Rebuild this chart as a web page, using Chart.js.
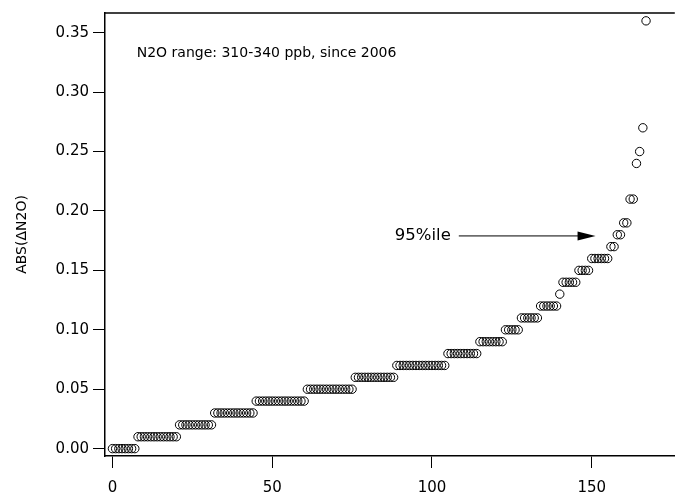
<!DOCTYPE html>
<html>
<head>
<meta charset="utf-8">
<script src="https://cdn.jsdelivr.net/npm/chart.js@4.4.1/dist/chart.umd.min.js"></script>
<style>
  html, body { margin: 0; padding: 0; background: #fff; }
  #wrap { width: 680px; height: 502px; }
</style>
</head>
<body>
<div id="wrap"><canvas id="chart" width="680" height="502"></canvas></div>
<script>
// sorted ABS(dN2O) values, one per point, in rank order (0..167)
const absDelta = [
  0.00, 0.00, 0.00, 0.00, 0.00, 0.00, 0.00, 0.00,
  0.01, 0.01, 0.01, 0.01, 0.01, 0.01, 0.01, 0.01, 0.01, 0.01, 0.01, 0.01, 0.01,
  0.02, 0.02, 0.02, 0.02, 0.02, 0.02, 0.02, 0.02, 0.02, 0.02, 0.02,
  0.03, 0.03, 0.03, 0.03, 0.03, 0.03, 0.03, 0.03, 0.03, 0.03, 0.03, 0.03, 0.03,
  0.04, 0.04, 0.04, 0.04, 0.04, 0.04, 0.04, 0.04, 0.04, 0.04, 0.04, 0.04, 0.04, 0.04, 0.04, 0.04,
  0.05, 0.05, 0.05, 0.05, 0.05, 0.05, 0.05, 0.05, 0.05, 0.05, 0.05, 0.05, 0.05, 0.05, 0.05,
  0.06, 0.06, 0.06, 0.06, 0.06, 0.06, 0.06, 0.06, 0.06, 0.06, 0.06, 0.06, 0.06,
  0.07, 0.07, 0.07, 0.07, 0.07, 0.07, 0.07, 0.07, 0.07, 0.07, 0.07, 0.07, 0.07, 0.07, 0.07, 0.07,
  0.08, 0.08, 0.08, 0.08, 0.08, 0.08, 0.08, 0.08, 0.08, 0.08,
  0.09, 0.09, 0.09, 0.09, 0.09, 0.09, 0.09, 0.09,
  0.10, 0.10, 0.10, 0.10, 0.10,
  0.11, 0.11, 0.11, 0.11, 0.11, 0.11,
  0.12, 0.12, 0.12, 0.12, 0.12, 0.12,
  0.13,
  0.14, 0.14, 0.14, 0.14, 0.14,
  0.15, 0.15, 0.15, 0.15,
  0.16, 0.16, 0.16, 0.16, 0.16, 0.16,
  0.17, 0.17,
  0.18, 0.18,
  0.19, 0.19,
  0.21, 0.21,
  0.24, 0.25, 0.27, 0.36
];
const xTicks = [0, 50, 100, 150];
const yTicks = [0, 0.05, 0.10, 0.15, 0.20, 0.25, 0.30, 0.35];

const yTitle = 'ABS(\u0394N2O)';
const noteText = 'N2O range: 310-340 ppb, since 2006';
const arrowText = '95%ile';
// annotation anchors in data units
const noteAt = { x: 7.6, y: 0.3326 };
const arrowFrom = { x: 108.4, y: 0.179 };
const arrowTo = { x: 151.2, y: 0.179 };

const FONT = '"DejaVu Sans", sans-serif';

const points = absDelta.map((v, i) => ({ x: i, y: v }));

// top frame line + text notes + arrow
const notesPlugin = {
  id: 'notes',
  afterDraw(chart) {
    const { ctx, chartArea: a, scales: { x, y } } = chart;
    ctx.save();
    ctx.strokeStyle = '#000';
    ctx.lineWidth = 1.5;
    ctx.beginPath(); ctx.moveTo(a.left, a.top); ctx.lineTo(a.right, a.top); ctx.stroke();

    ctx.fillStyle = '#000';
    ctx.font = '14px ' + FONT;
    ctx.textBaseline = 'middle';
    ctx.textAlign = 'left';
    ctx.fillText(noteText, x.getPixelForValue(noteAt.x), y.getPixelForValue(noteAt.y));

    const x0 = x.getPixelForValue(arrowFrom.x), y0 = y.getPixelForValue(arrowFrom.y);
    const x1 = x.getPixelForValue(arrowTo.x), y1 = y.getPixelForValue(arrowTo.y);
    ctx.font = '16.5px ' + FONT;
    ctx.textAlign = 'right';
    ctx.fillText(arrowText, x0 - 8, y0);
    ctx.lineWidth = 1;
    ctx.beginPath(); ctx.moveTo(x0, y0); ctx.lineTo(x1 - 16, y1); ctx.stroke();
    ctx.beginPath();
    ctx.moveTo(x1, y1); ctx.lineTo(x1 - 18, y1 - 4.5); ctx.lineTo(x1 - 18, y1 + 4.5);
    ctx.closePath(); ctx.fill();
    ctx.restore();
  }
};

new Chart(document.getElementById('chart'), {
  type: 'scatter',
  data: {
    datasets: [{
      data: points,
      showLine: false,
      pointStyle: 'circle',
      pointRadius: 4.2,
      pointBorderWidth: 1,
      pointBorderColor: '#000',
      pointBackgroundColor: 'rgba(0,0,0,0)'
    }]
  },
  options: {
    responsive: false,
    animation: false,
    devicePixelRatio: 1,
    layout: { padding: { top: 7, right: 0, left: 0, bottom: 0 } },
    plugins: { legend: { display: false }, tooltip: { enabled: false } },
    scales: {
      x: {
        type: 'linear',
        min: -2.33,
        max: 176,
        afterBuildTicks: s => { s.ticks = xTicks.map(v => ({ value: v })); },
        afterFit: s => { s.height = 46; },
        grid: { drawOnChartArea: false, drawTicks: true, tickLength: 12, color: '#000', lineWidth: 1 },
        border: { display: true, color: '#000', width: 1.5 },
        ticks: { color: '#000', font: { family: FONT, size: 15 }, padding: 11, maxRotation: 0 }
      },
      y: {
        min: -0.0062,
        max: 0.3666,
        afterBuildTicks: s => { s.ticks = yTicks.map(v => ({ value: v })); },
        afterFit: s => { s.width = 105; },
        grid: { drawOnChartArea: false, drawTicks: true, tickLength: 12, color: '#000', lineWidth: 1 },
        border: { display: true, color: '#000', width: 1.5 },
        ticks: { color: '#000', font: { family: FONT, size: 15 }, padding: 4, callback: v => v.toFixed(2) },
        title: { display: true, text: yTitle, color: '#000', font: { family: FONT, size: 14 }, padding: { top: 14, bottom: 0 } }
      }
    }
  },
  plugins: [notesPlugin]
});
</script>
</body>
</html>
